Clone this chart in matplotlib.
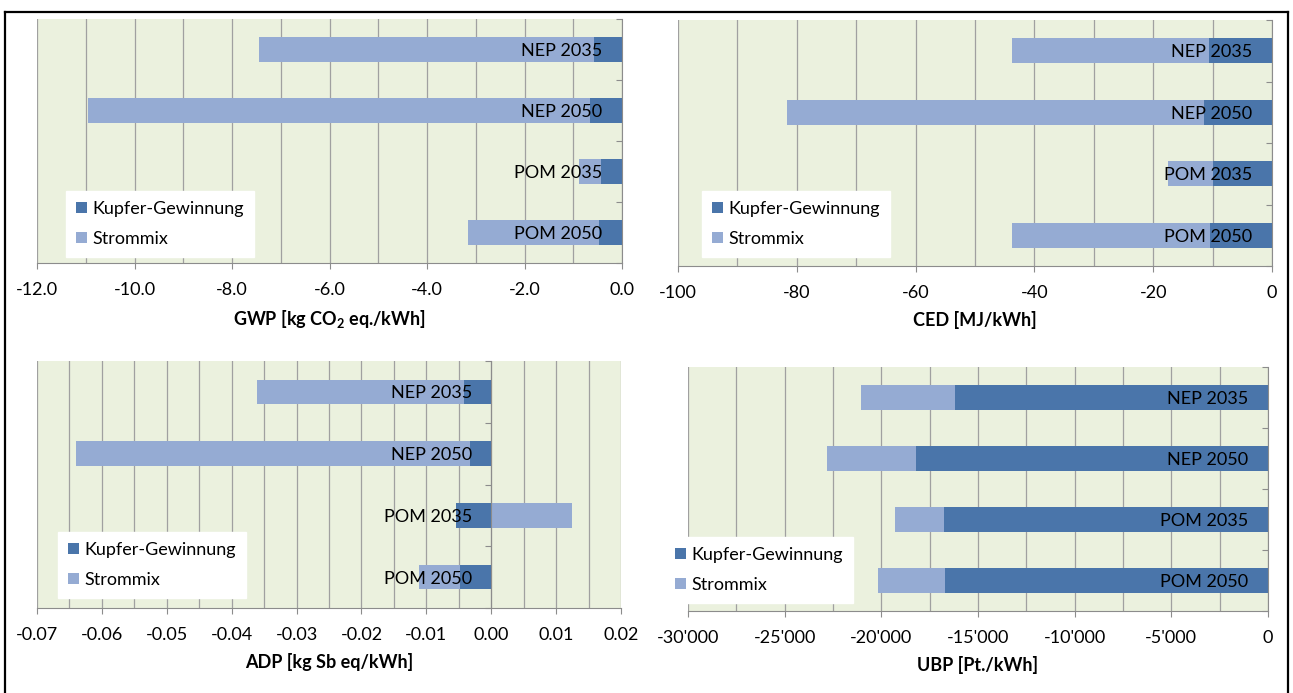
# -*- coding: utf-8 -*-
"""Four stacked bar panels: Kupfer-Gewinnung and Strommix contributions."""

import matplotlib.pyplot as plt
import matplotlib.ticker as mtick
from matplotlib.lines import Line2D
import numpy as np

plt.rcParams["font.family"] = ["Lato", "DejaVu Sans"]
plt.rcParams["mathtext.fontset"] = "custom"
plt.rcParams["mathtext.rm"] = "Lato"
plt.rcParams["mathtext.bf"] = "Lato:bold"
plt.rcParams["axes.unicode_minus"] = False

W, H = 1293, 693
FS = 13

# data
categories = ["NEP 2035", "NEP 2050", "POM 2035", "POM 2050"]
series_names = ["Kupfer-Gewinnung", "Strommix"]

gwp_kupfer = [-0.57, -0.66, -0.43, -0.47]
gwp_strommix = [-6.88, -10.30, -0.45, -2.69]

ced_kupfer = [-10.6, -11.5, -10.0, -10.5]
ced_strommix = [-33.2, -70.1, -7.5, -33.3]

adp_kupfer = [-0.0042, -0.0033, -0.0054, -0.0048]
adp_strommix = [-0.0319, -0.0607, 0.0125, -0.0064]

ubp_kupfer = [-16200, -18230, -16780, -16730]
ubp_strommix = [-4840, -4560, -2500, -3430]

DARK = "#4A75AA"
LIGHT = "#95ABD3"
BG = "#EBF1DE"
GRID = "#A0A0A0"
AXIS = "#8C8C8C"


def fig_rect(left, top, right, bottom):
    """Pixel box (from top-left) -> figure fraction rect."""
    return [left / W, 1 - bottom / H, (right - left) / W, (bottom - top) / H]


def panel(fig, rect, kupfer, strommix, xlim, major, minor, fmt, xlab, leg_box):
    ax = fig.add_axes(fig_rect(*rect))
    ax.set_facecolor(BG)
    y = np.arange(len(categories))
    kupfer = np.array(kupfer, dtype=float)
    strommix = np.array(strommix, dtype=float)
    # stack on the same side only (negative and positive stacks kept apart)
    left = np.where(np.sign(strommix) == np.sign(kupfer), kupfer, 0)
    b1 = ax.barh(y, kupfer, 0.4, color=DARK, label=series_names[0], zorder=2)
    b2 = ax.barh(y, strommix, 0.4, left=left, color=LIGHT,
                 label=series_names[1], zorder=2)

    ax.set_xlim(xlim)
    ax.set_ylim(3.5, -0.5)
    ax.xaxis.set_major_locator(mtick.MultipleLocator(major))
    ax.xaxis.set_minor_locator(mtick.MultipleLocator(minor))
    ax.xaxis.set_major_formatter(mtick.FuncFormatter(fmt))
    ax.grid(True, axis="x", which="both", color=GRID, linewidth=0.9)
    ax.tick_params(axis="x", which="major", direction="out", length=4,
                   width=0.8, color=AXIS, pad=10, labelsize=FS)
    ax.tick_params(axis="x", which="minor", length=0)

    # category axis sits at x = 0
    ax.spines["left"].set_position(("data", 0))
    ax.spines["left"].set_color(AXIS)
    ax.spines["bottom"].set_color(AXIS)
    ax.spines["top"].set_visible(False)
    ax.spines["right"].set_visible(False)
    ax.set_yticks(np.arange(-0.5, len(categories), 1.0))
    ax.set_yticklabels([])
    ax.set_yticks(y, minor=True)
    ax.set_yticklabels(categories, minor=True)
    ax.tick_params(axis="y", which="major", direction="out", length=4,
                   width=0.8, color=AXIS)
    ax.tick_params(axis="y", which="minor", length=0, pad=14, labelsize=FS)

    # gridlines under the bars, category labels above them
    ax.xaxis.set_zorder(0.5)
    ax.yaxis.set_zorder(3)

    ax.set_xlabel(xlab, fontsize=FS, fontweight="bold", labelpad=7)

    lx, ly = leg_box
    leg = ax.legend(handles=[b1, b2], loc="lower left",
                    bbox_to_anchor=(lx / W, 1 - ly / H),
                    bbox_transform=fig.transFigure, borderaxespad=0,
                    fontsize=FS, frameon=True, fancybox=False,
                    handlelength=0.6, handleheight=0.6, handletextpad=0.3,
                    labelspacing=0.8, borderpad=0.55)
    leg.get_frame().set_facecolor("white")
    leg.get_frame().set_edgecolor("white")
    leg.get_frame().set_alpha(1)
    leg.set_zorder(5)
    return ax


fig = plt.figure(figsize=(W / 100, H / 100), dpi=100)

panel(fig, (37, 19, 622, 263), gwp_kupfer, gwp_strommix, (-12, 0), 2.0, 1.0,
      lambda v, p: f"{v:.1f}", r"GWP [kg CO$_\mathbf{2}$ eq./kWh]", (66, 257))
panel(fig, (678, 20, 1272, 266), ced_kupfer, ced_strommix, (-100, 0), 20, 10,
      lambda v, p: f"{v:.0f}", "CED [MJ/kWh]", (702, 257))
panel(fig, (37, 361, 621, 608), adp_kupfer, adp_strommix, (-0.07, 0.02),
      0.01, 0.005, lambda v, p: f"{v:.2f}", "ADP [kg Sb eq/kWh]", (58, 598))
panel(fig, (688, 367, 1268, 611), ubp_kupfer, ubp_strommix, (-30000, 0),
      5000, 2500, lambda v, p: f"{v:,.0f}".replace(",", "'"),
      "UBP [Pt./kWh]", (665, 603))

# outer frame (left, top, right)
frame_kw = dict(color="black", linewidth=1.6, transform=fig.transFigure)
fig.add_artist(Line2D([5 / W, 5 / W], [0, 1 - 11.5 / H], **frame_kw))
fig.add_artist(Line2D([5 / W, 1288 / W], [1 - 11.5 / H, 1 - 11.5 / H], **frame_kw))
fig.add_artist(Line2D([1288 / W, 1288 / W], [0, 1 - 11.5 / H], **frame_kw))

fig.savefig("out.png", dpi=100)
